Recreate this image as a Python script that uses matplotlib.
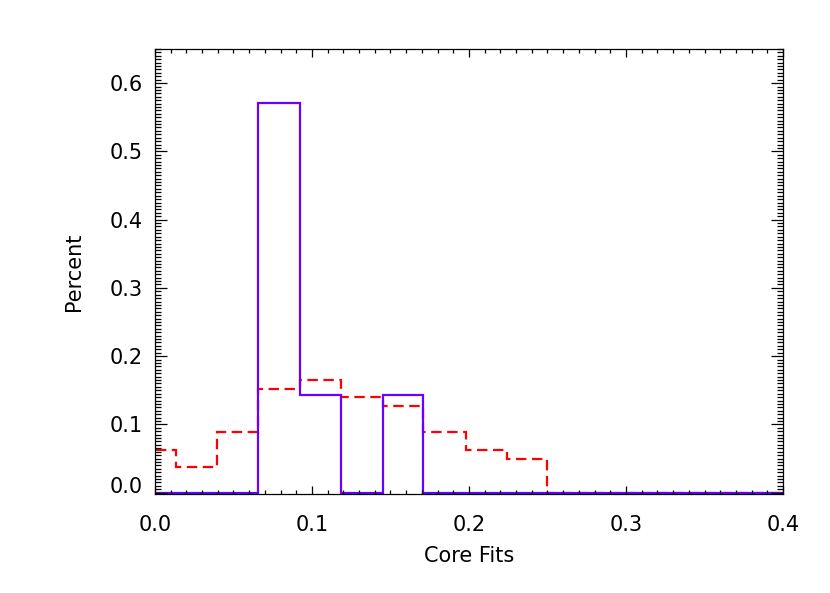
import matplotlib
matplotlib.use("Agg")
import matplotlib.pyplot as plt
import numpy as np

# bin edges (last bin just pads to the axis end)
edges = [-0.0129, 0.0134, 0.0395, 0.0656, 0.0922, 0.1185, 0.1450,
         0.1710, 0.1980, 0.2240, 0.2500, 0.4100]
red_vals = [0.0625, 0.0375, 0.0890, 0.1525, 0.1650, 0.1405, 0.1275,
            0.0890, 0.0630, 0.0500, 0.0]
blue_vals = [0.0, 0.0, 0.0, 0.5714, 0.1429, 0.0, 0.1429,
             0.0, 0.0, 0.0, 0.0]

x_ticks = [0.0, 0.1, 0.2, 0.3, 0.4]
y_ticks = [0.0, 0.1, 0.2, 0.3, 0.4, 0.5, 0.6]

plt.rcParams["lines.scale_dashes"] = False
plt.rcParams["font.family"] = ["DejaVu Sans"]

fig = plt.figure(figsize=(8.3, 5.93), dpi=100)
ax = fig.add_axes([0.1867, 0.1669, 0.7567, 0.7505])

ax.stairs(red_vals, edges, baseline=0, color="#ff0000", lw=1.6,
          linestyle=(0, (7.5, 4)))
ax.stairs(blue_vals, edges, baseline=0, color="#6a00ff", lw=1.6)

ax.set_xlim(0, 0.4)
ax.set_ylim(-0.002, 0.65)

ax.set_xticks(x_ticks)
ax.set_xticklabels(["%.1f" % v for v in x_ticks])
ax.set_yticks(y_ticks)
ax.set_yticklabels(["%.1f" % v for v in y_ticks])
ax.set_xticks(np.arange(0, 0.4001, 0.01), minor=True)
ax.set_yticks(np.arange(0, 0.6501, 0.005), minor=True)

ax.tick_params(axis="both", which="both", direction="in", top=True,
               right=True, width=0.9, labelsize=15, colors="black")
ax.tick_params(axis="x", which="major", length=5.8, pad=15)
ax.tick_params(axis="x", which="minor", length=2.9)
ax.tick_params(axis="y", which="major", length=8.6, pad=9)
ax.tick_params(axis="y", which="minor", length=4.3)

# IDL puts the bottom y label a bit above the axis
ax.get_yticklabels()[0].set_verticalalignment("baseline")

for s in ax.spines.values():
    s.set_linewidth(0.9)

ax.set_xlabel("Core Fits", fontsize=15, labelpad=8)
ax.set_ylabel("Percent", fontsize=15, labelpad=18)

fig.savefig("out.png", dpi=100)
